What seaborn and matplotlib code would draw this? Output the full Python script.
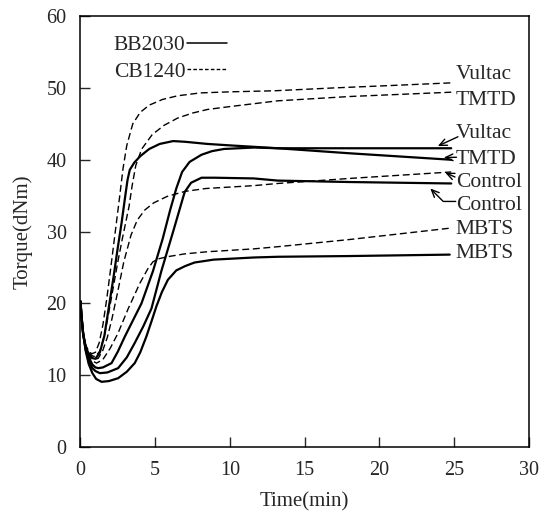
import matplotlib
matplotlib.use("Agg")
import matplotlib.pyplot as plt
from matplotlib.lines import Line2D
import seaborn as sns
import pandas as pd

# ---------------- data ----------------
# CB1240 (dashed) series
t_cb_vultac = [0, 0.08, 0.18, 0.35, 0.55, 0.75, 1.0, 1.25, 1.5, 1.75, 2.0, 2.3, 2.6, 2.85,
               3.1, 3.5, 4.0, 4.6, 5.5, 6.5, 8.0, 10.0, 13.0, 17.0, 21.0, 24.8]
y_cb_vultac = [20.3, 18.0, 15.8, 14.2, 13.4, 13.0, 13.2, 14.5, 17.0, 20.5, 24.5, 29.5, 34.5, 38.8,
               42.0, 45.0, 46.6, 47.6, 48.4, 48.9, 49.3, 49.45, 49.6, 50.0, 50.35, 50.7]

t_cb_tmtd = [0, 0.08, 0.18, 0.35, 0.55, 0.8, 1.0, 1.3, 1.6, 1.9, 2.2, 2.5, 2.8, 3.05, 3.25, 3.45,
             3.7, 4.1, 4.8, 5.6, 6.5, 7.5, 8.5, 10.0, 11.6, 13.2, 18.0, 24.8]
y_cb_tmtd = [20.3, 18.0, 15.8, 14.1, 13.2, 12.7, 12.6, 13.4, 15.5, 18.8, 22.3, 25.8, 29.0, 31.5, 33.5, 36.3,
             39.2, 41.5, 43.5, 44.8, 45.8, 46.5, 47.0, 47.4, 47.8, 48.2, 48.8, 49.4]

t_cb_control = [0, 0.08, 0.18, 0.35, 0.55, 0.8, 1.0, 1.2, 1.5, 1.8, 2.1, 2.5, 2.9, 3.38, 3.8, 4.3,
                4.9, 5.8, 7.0, 8.4, 10.0, 11.6, 13.2, 18.0, 24.8]
y_cb_control = [20.3, 18.0, 15.8, 14.0, 13.0, 12.4, 12.2, 12.4, 13.5, 15.3, 17.8, 21.7, 25.8, 29.5, 31.6, 33.0,
                34.0, 34.9, 35.6, 36.0, 36.2, 36.4, 36.7, 37.4, 38.3]

t_cb_mbts = [0, 0.08, 0.18, 0.35, 0.55, 0.8, 1.08, 1.5, 2.0, 2.52, 3.2, 3.97, 4.5, 4.85, 5.2, 5.8,
             6.97, 8.5, 11.6, 13.2, 18.0, 24.8]
y_cb_mbts = [20.3, 18.0, 15.8, 13.9, 12.8, 12.0, 11.7, 12.2, 13.8, 15.9, 19.3, 22.8, 24.8, 25.8, 26.2, 26.5,
             26.9, 27.2, 27.6, 27.9, 28.9, 30.5]

# BB2030 (solid) series
t_bb_vultac = [0, 0.08, 0.18, 0.35, 0.55, 0.8, 1.0, 1.3, 1.6, 1.9, 2.2, 2.5, 2.75, 3.0, 3.15, 3.3, 3.6,
               4.0, 4.6, 5.3, 6.2, 7.0, 8.5, 10.0, 11.6, 13.2, 18.0, 24.8]
y_bb_vultac = [20.3, 18.0, 15.8, 14.0, 13.0, 12.4, 12.3, 13.2, 15.5, 19.5, 23.5, 27.8, 31.2, 35.0, 37.2, 38.6, 39.6,
               40.5, 41.5, 42.2, 42.6, 42.5, 42.2, 42.0, 41.8, 41.6, 41.6, 41.6]

t_bb_tmtd = [0, 0.08, 0.18, 0.35, 0.55, 0.8, 1.0, 1.2, 1.5, 2.08, 2.5, 2.97, 3.5, 4.08, 4.85, 5.5,
             6.0, 6.41, 6.8, 7.3, 8.1, 8.8, 9.6, 11.6, 13.2, 18.0, 24.8]
y_bb_tmtd = [20.3, 18.0, 15.8, 13.8, 12.5, 11.5, 11.1, 11.0, 11.1, 11.7, 13.3, 15.4, 17.6, 20.0, 24.5, 29.0,
             33.0, 36.0, 38.3, 39.7, 40.7, 41.2, 41.5, 41.7, 41.6, 40.9, 40.0]

t_bb_control = [0, 0.08, 0.18, 0.35, 0.55, 0.8, 1.0, 1.3, 1.8, 2.52, 3.1, 3.63, 4.2, 4.75, 5.41,
                6.2, 6.97, 7.4, 8.1, 9.0, 11.6, 13.2, 18.0, 24.8]
y_bb_control = [20.3, 18.0, 15.8, 13.6, 12.1, 11.0, 10.6, 10.3, 10.4, 11.0, 12.5, 14.5, 16.8, 19.3, 24.5,
                30.0, 35.5, 36.8, 37.5, 37.5, 37.4, 37.1, 36.9, 36.7]

t_bb_mbts = [0, 0.08, 0.18, 0.35, 0.55, 0.8, 1.05, 1.41, 1.9, 2.52, 3.1, 3.63, 4.0, 4.41, 4.75, 5.08,
             5.45, 5.85, 6.41, 7.0, 7.63, 8.9, 11.6, 13.2, 18.0, 24.7]
y_bb_mbts = [20.3, 18.0, 15.8, 13.4, 11.6, 10.3, 9.5, 9.1, 9.2, 9.6, 10.5, 11.7, 13.2, 15.4, 17.5, 19.6,
             21.6, 23.3, 24.6, 25.2, 25.7, 26.1, 26.4, 26.5, 26.6, 26.8]

label_names = ["Vultac", "TMTD", "Vultac", "TMTD", "Control", "Control", "MBTS", "MBTS"]
label_y = [51.9, 48.3, 43.6, 40.1, 36.9, 33.7, 30.3, 27.0]
x_ticks = [0, 5, 10, 15, 20, 25, 30]
y_ticks = [0, 10, 20, 30, 40, 50, 60]

# ---------------- drawing ----------------
sns.set_theme(style="white")
plt.rcParams["font.family"] = ["Liberation Serif", "DejaVu Serif"]
plt.rcParams["axes.edgecolor"] = "black"

fig = plt.figure(figsize=(5.51, 5.17), dpi=100)
ax = fig.add_axes([0.146, 0.135, 0.814, 0.834])

dash_style = (0, (5, 2.6))
series = [
    (t_cb_vultac, y_cb_vultac, "CB1240"),
    (t_cb_tmtd, y_cb_tmtd, "CB1240"),
    (t_cb_control, y_cb_control, "CB1240"),
    (t_cb_mbts, y_cb_mbts, "CB1240"),
    (t_bb_vultac, y_bb_vultac, "BB2030"),
    (t_bb_tmtd, y_bb_tmtd, "BB2030"),
    (t_bb_control, y_bb_control, "BB2030"),
    (t_bb_mbts, y_bb_mbts, "BB2030"),
]
for t, y, comp in series:
    df = pd.DataFrame({"t": t, "y": y})
    if comp == "CB1240":
        sns.lineplot(data=df, x="t", y="y", ax=ax, color="black", lw=1.0,
                     linestyle=dash_style, sort=False, estimator=None)
    else:
        sns.lineplot(data=df, x="t", y="y", ax=ax, color="black", lw=1.6,
                     sort=False, estimator=None, solid_joinstyle="round")

ax.set_xlim(0, 30)
ax.set_ylim(0, 60)
ax.set_xticks(x_ticks)
ax.set_yticks(y_ticks)
ax.tick_params(direction="in", length=7, width=1, labelsize=14.5, top=False, right=False,
               bottom=True, left=True, pad=10)
for s in ax.spines.values():
    s.set_linewidth(1.1)
    s.set_color("black")
ax.set_xlabel("Time(min)", fontsize=15, labelpad=9)
ax.set_ylabel("Torque(dNm)", fontsize=15, labelpad=10)

# curve labels on the right
for name, yy in zip(label_names, label_y):
    ax.text(25.1, yy, name, fontsize=15.5, ha="left", va="center")

arrow_kw = dict(arrowstyle="->,head_length=0.45,head_width=0.2", color="black", lw=1.0,
                shrinkA=0, shrinkB=0)
ax.annotate("", xy=(23.9, 41.9), xytext=(25.25, 43.2), arrowprops=arrow_kw)
ax.annotate("", xy=(24.3, 40.3), xytext=(25.15, 40.35), arrowprops=arrow_kw)
ax.annotate("", xy=(24.4, 38.2), xytext=(25.05, 37.6), arrowprops=arrow_kw)
ax.annotate("", xy=(23.4, 36.0), xytext=(25.1, 34.2),
            arrowprops=dict(arrow_kw, connectionstyle="angle,angleA=0,angleB=-45,rad=0"))

# legend (text first, line sample after it)
handles = [Line2D([], [], color="black", lw=1.1),
           Line2D([], [], color="black", lw=1.0, linestyle=(0, (2.6, 1.6)))]
ax.legend(handles, ["BB2030", "CB1240"], loc="upper left", bbox_to_anchor=(0.055, 0.975),
          markerfirst=False, frameon=False, fontsize=15.5, handlelength=1.9,
          handletextpad=0.05, labelspacing=0.3, borderaxespad=0)

fig.savefig("out.png", dpi=100)
